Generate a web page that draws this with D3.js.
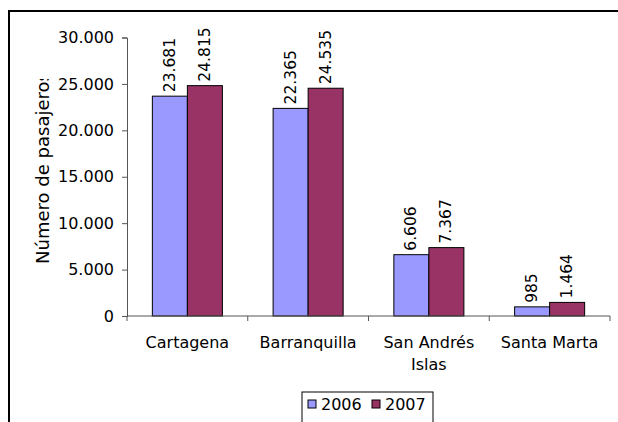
<!DOCTYPE html>
<html>
<head>
<meta charset="utf-8">
<script src="https://cdn.jsdelivr.net/npm/d3@7"></script>
<style>
  html, body { margin: 0; padding: 0; background: #fff; }
  svg { display: block; font-family: "DejaVu Sans", Verdana, sans-serif; }
</style>
</head>
<body>
<svg id="chart" width="618" height="422"></svg>
<script>
// chart data
const categories = ["Cartagena", "Barranquilla", "San Andrés Islas", "Santa Marta"];
const categoryLabels = [["Cartagena"], ["Barranquilla"], ["San Andrés", "Islas"], ["Santa Marta"]];
const seriesNames = ["2006", "2007"];
const values2006 = [23681, 22365, 6606, 985];
const values2007 = [24815, 24535, 7367, 1464];
const yTicks = [0, 5000, 10000, 15000, 20000, 25000, 30000];
const seriesColors = ["#9999ff", "#993366"];

const svg = d3.select("#chart");
const margin = { top: 37.5, left: 127, right: 8, bottom: 106 };
const width = 618 - margin.right;
const height = 422 - margin.bottom;

const loc = d3.formatLocale({ decimal: ",", thousands: ".", grouping: [3], currency: ["", ""] });
const fmt = loc.format(",");

const rows = categories.map((c, i) => ({ cat: c, values: [values2006[i], values2007[i]] }));

// outer frame (runs off the right and bottom edges)
svg.append("rect")
  .attr("x", 9).attr("y", 11)
  .attr("width", 640).attr("height", 440)
  .attr("fill", "none").attr("stroke", "#000").attr("stroke-width", 2);

const xScale = d3.scaleBand().domain(categories).range([margin.left, width]).padding(0);
const bw = xScale.bandwidth();
const gap = bw * 0.21;
const x1 = d3.scaleBand().domain(seriesNames).range([gap, bw - gap]).padding(0);
const yScale = d3.scaleLinear().domain([0, 30000]).range([height, margin.top]);

// y axis
const yAxis = svg.append("g")
  .attr("transform", `translate(${margin.left},0)`)
  .call(d3.axisLeft(yScale).tickValues(yTicks).tickFormat(fmt).tickSizeOuter(0).tickSize(5).tickPadding(8));
yAxis.select(".domain").attr("stroke", "#555");
yAxis.selectAll(".tick line").attr("stroke", "#555");
yAxis.selectAll(".tick text")
  .attr("fill", "#000")
  .style("font-size", "16px")
  .style("font-family", "'DejaVu Sans', Verdana, sans-serif");

// bars
const groups = svg.selectAll("g.group")
  .data(rows)
  .enter()
  .append("g")
  .attr("class", "group")
  .attr("transform", d => `translate(${xScale(d.cat)},0)`);

groups.selectAll("rect")
  .data(d => d.values.map((v, i) => ({ key: seriesNames[i], v: v, i: i })))
  .enter()
  .append("rect")
  .attr("x", d => x1(d.key))
  .attr("y", d => yScale(d.v))
  .attr("width", x1.bandwidth())
  .attr("height", d => yScale(0) - yScale(d.v))
  .attr("fill", d => seriesColors[d.i])
  .attr("stroke", "#000")
  .attr("stroke-width", 1);

// value labels
groups.selectAll("text.val")
  .data(d => d.values.map((v, i) => ({ key: seriesNames[i], v: v })))
  .enter()
  .append("text")
  .attr("class", "val")
  .attr("transform", d => `translate(${x1(d.key) + x1.bandwidth() / 2},${yScale(d.v) - 4}) rotate(-90)`)
  .attr("dominant-baseline", "central")
  .style("font-size", "15.5px")
  .text(d => fmt(d.v));

// x axis
const xAxis = svg.append("g");
xAxis.append("line")
  .attr("x1", margin.left).attr("x2", width)
  .attr("y1", yScale(0)).attr("y2", yScale(0))
  .attr("stroke", "#555");
const bounds = categories.map(c => xScale(c)).concat([xScale(categories[categories.length - 1]) + bw]);
xAxis.selectAll("line.tk")
  .data(bounds)
  .enter()
  .append("line")
  .attr("class", "tk")
  .attr("x1", d => d).attr("x2", d => d)
  .attr("y1", yScale(0)).attr("y2", yScale(0) + 5)
  .attr("stroke", "#555");
const catText = xAxis.selectAll("text.cat")
  .data(categories)
  .enter()
  .append("text")
  .attr("class", "cat")
  .attr("x", d => xScale(d) + bw / 2)
  .attr("y", 348)
  .attr("text-anchor", "middle")
  .style("font-size", "16px");
catText.each(function (d, i) {
  const t = d3.select(this);
  categoryLabels[i].forEach((line, j) => {
    t.append("tspan").attr("x", xScale(d) + bw / 2).attr("dy", j === 0 ? 0 : 22).text(line);
  });
});

// y title, clipped at the top like the original
svg.append("clipPath").attr("id", "ytclip")
  .append("rect").attr("x", 0).attr("y", 79).attr("width", 100).attr("height", 300);
svg.append("g")
  .attr("clip-path", "url(#ytclip)")
  .append("text")
  .attr("transform", `translate(42,168) rotate(-90)`)
  .attr("text-anchor", "middle")
  .attr("dominant-baseline", "central")
  .style("font-size", "18px")
  .text("Número de pasajeros");

// legend
const legend = svg.append("g").attr("class", "legends");
legend.append("rect")
  .attr("x", 302).attr("y", 392).attr("width", 131).attr("height", 40)
  .attr("fill", "#fff").attr("stroke", "#000");
const legendX = [308, 372];
seriesNames.forEach((s, i) => {
  legend.append("rect")
    .attr("x", legendX[i]).attr("y", 400)
    .attr("width", 8).attr("height", 8)
    .attr("fill", seriesColors[i]).attr("stroke", "#000");
  legend.append("text")
    .attr("x", legendX[i] + 13).attr("y", 409.5)
    .style("font-size", "16px")
    .text(s);
});
</script>
</body>
</html>
